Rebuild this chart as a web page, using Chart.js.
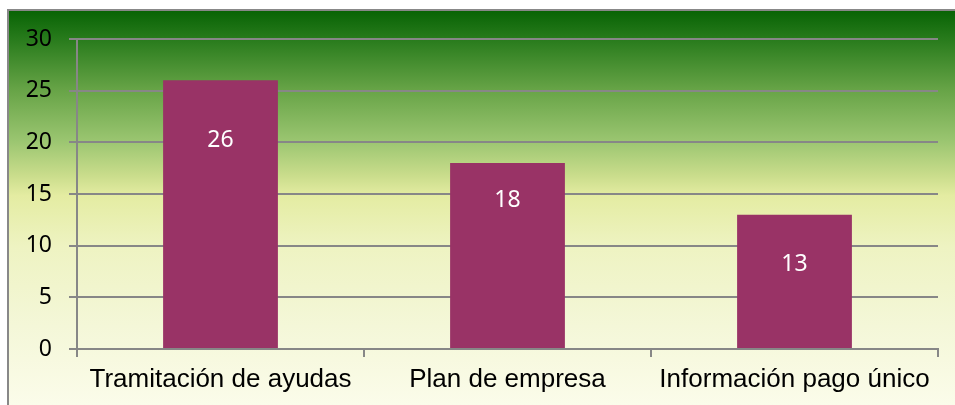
<!DOCTYPE html>
<html>
<head>
<meta charset="utf-8">
<script src="https://cdn.jsdelivr.net/npm/chart.js@4/dist/chart.umd.min.js"></script>
<style>
  html, body { margin: 0; padding: 0; background: #ffffff; }
  #wrap { width: 955px; height: 405px; }
</style>
</head>
<body>
<div id="wrap"><canvas id="c" width="955" height="405"></canvas></div>
<script>
const categories = ['Tramitación de ayudas', 'Plan de empresa', 'Información pago único'];
const values = [26, 18, 13];
const yTicks = [0, 5, 10, 15, 20, 25, 30];

const barColor = '#993366';
const gridColor = '#878787';

const bgPlugin = {
  id: 'bg',
  beforeDraw(chart) {
    const ctx = chart.ctx;
    const w = chart.width, h = chart.height;
    const x0 = 8, y0 = 10;
    const g = ctx.createLinearGradient(0, y0, 0, h);
    g.addColorStop(0.00, '#076304');
    g.addColorStop(0.08, '#2b7d1e');
    g.addColorStop(0.20, '#66a346');
    g.addColorStop(0.33, '#9ac570');
    g.addColorStop(0.42, '#cadd8c');
    g.addColorStop(0.47, '#e4eca2');
    g.addColorStop(0.60, '#eef3c2');
    g.addColorStop(0.80, '#f4f7d8');
    g.addColorStop(1.00, '#fbfcea');
    ctx.save();
    ctx.fillStyle = '#ffffff';
    ctx.fillRect(0, 0, w, h);
    ctx.fillStyle = g;
    ctx.fillRect(x0, y0, w - x0, h - y0);
    ctx.strokeStyle = '#888888';
    ctx.lineWidth = 2;
    ctx.beginPath();
    ctx.moveTo(x0, h);
    ctx.lineTo(x0, y0);
    ctx.lineTo(w, y0);
    ctx.stroke();
    ctx.restore();
  }
};

const valueLabelPlugin = {
  id: 'valueLabels',
  afterDatasetsDraw(chart, args, opts) {
    const ctx = chart.ctx;
    const meta = chart.getDatasetMeta(0);
    const y = chart.scales.y;
    ctx.save();
    ctx.fillStyle = '#ffffff';
    ctx.font = '23px "Noto Sans"';
    ctx.textAlign = 'center';
    ctx.textBaseline = 'middle';
    meta.data.forEach((bar, i) => {
      const v = chart.data.datasets[0].data[i];
      const py = y.getPixelForValue(v * opts.fractions[i]);
      ctx.fillText(String(v), bar.x, py);
    });
    ctx.restore();
  }
};

new Chart(document.getElementById('c'), {
  type: 'bar',
  data: {
    labels: categories,
    datasets: [{
      data: values,
      backgroundColor: barColor,
      borderWidth: 0,
      categoryPercentage: 0.4,
      barPercentage: 1.0
    }]
  },
  options: {
    responsive: false,
    animation: false,
    devicePixelRatio: 1,
    layout: { padding: { top: 39, right: 17, left: 0, bottom: 0 } },
    plugins: {
      legend: { display: false },
      tooltip: { enabled: false },
      valueLabels: { fractions: [0.776, 0.80, 0.628] }
    },
    scales: {
      x: {
        afterFit(s) { s.height = 56; },
        grid: {
          offset: true,
          drawOnChartArea: false,
          drawTicks: true,
          tickLength: 8,
          color: gridColor,
          lineWidth: 2
        },
        border: { display: true, color: gridColor, width: 2 },
        ticks: {
          color: '#000000',
          font: { family: 'Liberation Sans', size: 26 },
          padding: 7,
          maxRotation: 0,
          autoSkip: false
        }
      },
      y: {
        min: 0,
        max: 30,
        afterFit(s) { s.width = 77; },
        afterBuildTicks(s) { s.ticks = yTicks.map(v => ({ value: v })); },
        grid: {
          drawOnChartArea: true,
          drawTicks: true,
          tickLength: 8,
          color: gridColor,
          lineWidth: 2
        },
        border: { display: true, color: gridColor, width: 2 },
        ticks: {
          color: '#000000',
          font: { family: 'Noto Sans', size: 23 },
          padding: 17
        }
      }
    }
  },
  plugins: [bgPlugin, valueLabelPlugin]
});
</script>
</body>
</html>
